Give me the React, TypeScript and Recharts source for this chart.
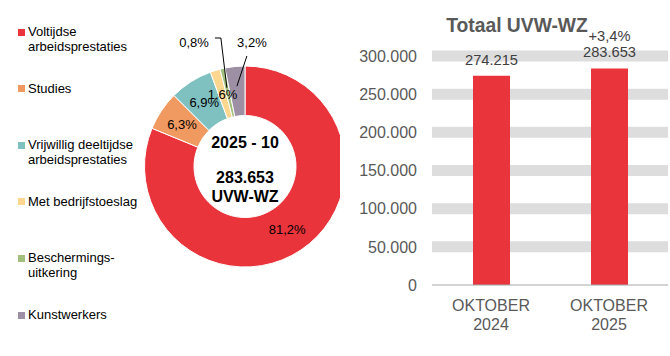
import { PieChart, Pie, Cell, BarChart, Bar, XAxis, YAxis, CartesianGrid, LabelList } from "recharts"

// pie: share per category, october 2025
const categories = [
  "Voltijdse\narbeidsprestaties",
  "Studies",
  "Vrijwillig deeltijdse\narbeidsprestaties",
  "Met bedrijfstoeslag",
  "Beschermings-\nuitkering",
  "Kunstwerkers",
]
const shares = [81.2, 6.3, 6.9, 1.6, 0.8, 3.2]
const sliceColors = ["#E9343B", "#F09A62", "#7FC0C1", "#FDD790", "#A3BF7E", "#9D90A5"]

const centerPeriod = "2025 - 10"
const centerTotal = "283.653"
const centerUnit = "UVW-WZ"

// bars: totals per period
const periods = ["OKTOBER 2024", "OKTOBER 2025"]
const totals = [274215, 283653]
const changes = ["", "+3,4%"]
const yTicks = [0, 50000, 100000, 150000, 200000, 250000, 300000]
const bandValues = [50000, 100000, 150000, 200000, 250000, 300000]

const FONT = '"Liberation Sans", Arial, sans-serif'
const GRAY = "#595959"
const RADIAN = Math.PI / 180

const fmtNum = (v: number) => String(v).replace(/\B(?=(\d{3})+(?!\d))/g, ".")
const fmtPct = (v: number) => v.toFixed(1).replace(".", ",") + "%"

const pieData = categories.map((name, i) => ({ name, value: shares[i] }))
const barData = periods.map((period, i) => ({ period, total: totals[i] }))

const polar = (cx: number, cy: number, r: number, angle: number) => ({
  x: cx + r * Math.cos(-angle * RADIAN),
  y: cy + r * Math.sin(-angle * RADIAN),
})

function CenterText({ cx, cy }: { cx: number; cy: number }) {
  const style = { fontFamily: FONT, fontSize: 16, fontWeight: "bold" as const, fill: "#000" }
  return (
    <g>
      <text x={cx} y={cy - 24.5} textAnchor="middle" dominantBaseline="central" {...style}>
        {centerPeriod}
      </text>
      <text x={cx} y={cy + 11} textAnchor="middle" dominantBaseline="central" {...style}>
        {centerTotal}
      </text>
      <text x={cx} y={cy + 30} textAnchor="middle" dominantBaseline="central" {...style}>
        {centerUnit}
      </text>
    </g>
  )
}

function SliceLabel(props: any) {
  const { cx, cy, midAngle, innerRadius, outerRadius, index, value } = props
  const mid = (innerRadius + outerRadius) / 2
  const text = fmtPct(value)
  const style = { fontFamily: FONT, fontSize: 13, fill: "#000" }
  if (index === 4) {
    const p = polar(cx, cy, mid + 5, midAngle)
    const ey = cy - outerRadius - 28
    const ex = p.x - 6
    return (
      <g>
        <polyline points={`${ex - 6},${ey} ${ex},${ey} ${p.x},${p.y}`} fill="none" stroke="#000" strokeWidth={1} />
        <text x={ex - 12} y={ey + 4} textAnchor="end" dominantBaseline="central" {...style}>
          {text}
        </text>
      </g>
    )
  }
  if (index === 5) {
    const p = polar(cx, cy, mid + 5, midAngle)
    const ex = p.x + 10
    const ey = cy - outerRadius - 10
    return (
      <g>
        <line x1={p.x} y1={p.y} x2={ex} y2={ey} stroke="#000" strokeWidth={1} />
        <text x={ex + 5} y={cy - outerRadius - 24} textAnchor="middle" dominantBaseline="central" {...style}>
          {text}
        </text>
      </g>
    )
  }
  const p = polar(cx, cy, mid, midAngle)
  return (
    <g>
      <text x={p.x} y={p.y} textAnchor="middle" dominantBaseline="central" {...style}>
        {text}
      </text>
      {index === 0 && <CenterText cx={cx} cy={cy} />}
    </g>
  )
}

function PeriodTick(props: any) {
  const { x, y, payload } = props
  const [month, year] = String(payload.value).split(" ")
  return (
    <text x={x} y={y} textAnchor="middle" fill={GRAY} fontSize={16} fontFamily={FONT}>
      <tspan x={x} dy={18}>{month}</tspan>
      <tspan x={x} dy={19}>{year}</tspan>
    </text>
  )
}

function TotalLabel(props: any) {
  const { x, y, width, index } = props
  const cx = x + width / 2
  const style = { fontFamily: FONT, fontSize: 14.67, fill: "#404040" }
  return (
    <g>
      <text x={cx} y={y - 16} textAnchor="middle" dominantBaseline="central" {...style}>
        {fmtNum(totals[index])}
      </text>
      {changes[index] && (
        <text x={cx} y={y - 32} textAnchor="middle" dominantBaseline="central" {...style}>
          {changes[index]}
        </text>
      )}
    </g>
  )
}

export default function App() {
  return (
    <div style={{ position: "absolute", left: 0, top: 0, width: 670, height: 356, background: "#fff", fontFamily: FONT }}>
      {/* legend */}
      <div style={{ position: "absolute", left: 0, top: 25, width: 150 }}>
        {categories.map((name, i) => (
          <div key={name} style={{ position: "relative", height: 56.6 }}>
            <div style={{ position: "absolute", left: 18, top: 3.7, width: 7, height: 7, background: sliceColors[i] }} />
            <div style={{ position: "absolute", left: 28, top: 0, fontSize: 13, lineHeight: "14.5px", color: "#000", whiteSpace: "pre" }}>
              {name}
            </div>
          </div>
        ))}
      </div>

      <div style={{ position: "absolute", left: 0, top: 0 }}>
        <PieChart width={340} height={356} margin={{ top: 0, right: 0, bottom: 0, left: 0 }}>
          <Pie
            data={pieData}
            dataKey="value"
            cx={245}
            cy={166.5}
            innerRadius={51}
            outerRadius={100.5}
            startAngle={90}
            endAngle={-270}
            stroke="#fff"
            strokeWidth={1}
            label={SliceLabel}
            labelLine={false}
            isAnimationActive={false}
          >
            {pieData.map((d, i) => (
              <Cell key={d.name} fill={sliceColors[i]} />
            ))}
          </Pie>
        </PieChart>
      </div>

      <div style={{ position: "absolute", left: 367, top: 15, width: 300, textAlign: "center", fontSize: 19.3, lineHeight: "22px", fontWeight: "bold", color: GRAY }}>
        Totaal UVW-WZ
      </div>

      <div style={{ position: "absolute", left: 340, top: 0 }}>
        <BarChart width={330} height={356} data={barData} margin={{ top: 56, right: 2, bottom: 0, left: 0 }}>
          <CartesianGrid vertical={false} horizontalValues={bandValues} stroke="#DDDDDD" strokeWidth={11} />
          <XAxis
            dataKey="period"
            height={71}
            tickLine={false}
            axisLine={{ stroke: "#A6A6A6" }}
            tick={<PeriodTick />}
            interval={0}
          />
          <YAxis
            width={92}
            domain={[0, 300000]}
            ticks={yTicks}
            tickFormatter={fmtNum}
            tickLine={false}
            axisLine={false}
            tickMargin={9}
            tick={{ fill: GRAY, fontSize: 16, fontFamily: FONT }}
          />
          <Bar dataKey="total" fill="#E9343B" barSize={37} isAnimationActive={false}>
            <LabelList dataKey="total" content={TotalLabel} />
          </Bar>
        </BarChart>
      </div>
    </div>
  )
}
